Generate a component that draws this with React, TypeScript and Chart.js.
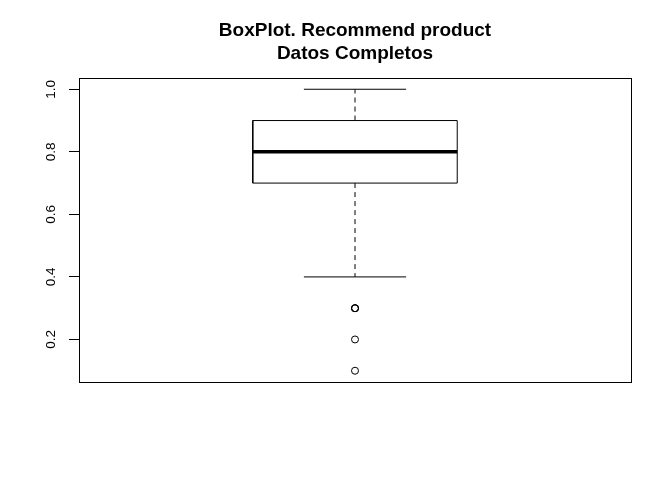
import React, { useEffect, useRef } from "react";
import { Chart, registerables } from "chart.js";

Chart.register(...registerables);

// Data
const titleLines = ["BoxPlot. Recommend product", "Datos Completos"];
const boxStats = [0.4, 0.7, 0.8, 0.9, 1.0]; // lower whisker, Q1, median, Q3, upper whisker
const outliers = [0.3, 0.3, 0.3, 0.2, 0.1];
const tickValues = [0.2, 0.4, 0.6, 0.8, 1.0];
const yRange = [0.064, 1.036];
const boxPosition = 1;

const FONT = "'Liberation Sans', Arial, Helvetica, sans-serif";

const framePlugin = {
  id: "frame",
  afterDraw(chart: any) {
    const { ctx, chartArea } = chart;
    ctx.save();
    ctx.strokeStyle = "#000";
    ctx.lineWidth = 1;
    ctx.strokeRect(
      Math.round(chartArea.left) + 0.5,
      Math.round(chartArea.top) + 0.5,
      Math.round(chartArea.right - chartArea.left),
      Math.round(chartArea.bottom - chartArea.top)
    );
    ctx.restore();
  },
};

export default function App() {
  const ref = useRef<HTMLCanvasElement>(null);

  useEffect(() => {
    document.body.style.margin = "0";
    const [lo, q1, med, q3, hi] = boxStats;
    const bw = 0.2;
    const cw = 0.1;
    const x = boxPosition;
    const lineDs = (data: any[], extra: any = {}) => ({
      type: "line",
      data,
      borderColor: "#000",
      borderWidth: 1,
      pointRadius: 0,
      fill: false,
      tension: 0,
      ...extra,
    });
    const chart = new Chart(ref.current!, {
      type: "scatter",
      data: {
        datasets: [
          lineDs([
            { x: x - bw, y: q1 },
            { x: x + bw, y: q1 },
            { x: x + bw, y: q3 },
            { x: x - bw, y: q3 },
            { x: x - bw, y: q1 },
          ]) as any,
          lineDs([{ x: x - bw, y: med }, { x: x + bw, y: med }], { borderWidth: 3.5 }) as any,
          lineDs([{ x, y: q3 }, { x, y: hi }], { borderDash: [5, 4] }) as any,
          lineDs([{ x, y: q1 }, { x, y: lo }], { borderDash: [5, 4] }) as any,
          lineDs([{ x: x - cw, y: hi }, { x: x + cw, y: hi }]) as any,
          lineDs([{ x: x - cw, y: lo }, { x: x + cw, y: lo }]) as any,
          {
            type: "scatter",
            data: outliers.map((v) => ({ x, y: v })),
            pointStyle: "circle",
            pointRadius: 3.5,
            pointBorderWidth: 1,
            pointBorderColor: "#000",
            pointBackgroundColor: "rgba(0,0,0,0)",
            showLine: false,
          } as any,
        ],
      },
      options: {
        responsive: false,
        animation: false,
        devicePixelRatio: 1,
        layout: { padding: { left: 0, right: 41, top: 0, bottom: 98 } },
        plugins: {
          legend: { display: false },
          tooltip: { enabled: false },
          title: {
            display: true,
            fullSize: false,
            text: titleLines,
            color: "#000",
            font: { family: FONT, size: 19, weight: "bold", lineHeight: 1.2 },
            padding: { top: 19.6, bottom: 12.8 },
          },
        },
        scales: {
          x: {
            type: "linear",
            min: 0.46,
            max: 1.54,
            display: false,
          },
          y: {
            type: "linear",
            min: yRange[0],
            max: yRange[1],
            afterFit(scale: any) {
              scale.width = 79;
            },
            afterBuildTicks(scale: any) {
              scale.ticks = tickValues.map((v) => ({ value: v }));
            },
            border: { display: false },
            grid: {
              drawOnChartArea: false,
              drawTicks: true,
              tickLength: 10,
              tickColor: "#000",
              tickWidth: 1,
            },
            ticks: {
              color: "#000",
              font: { family: FONT, size: 13.5 },
              minRotation: 90,
              maxRotation: 90,
              crossAlign: "center",
              padding: 8,
              callback: (v: any) => Number(v).toFixed(1),
            },
          },
        },
      },
      plugins: [framePlugin],
    } as any);
    return () => chart.destroy();
  }, []);

  return (
    <div style={{ width: 672, height: 480, background: "#fff" }}>
      <canvas ref={ref} width={672} height={480} />
    </div>
  );
}
